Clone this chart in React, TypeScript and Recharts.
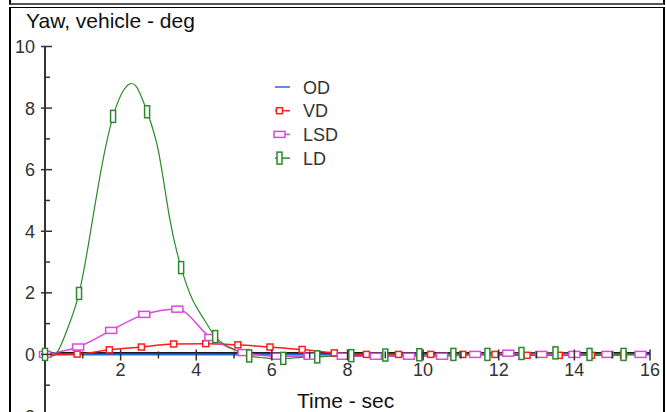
import React from "react";
import { LineChart, Line, XAxis, YAxis, ReferenceLine } from "recharts";

// sample periods of each run (s)
const OD_DT = 1;
const VD_DT = 0.85;
const LSD_DT = 0.875;
const LD_DT = 0.3;

// yaw angle, deg
const odYaw = [0, 0, 0, 0, 0, 0, 0, 0, 0, 0, 0, 0, 0, 0, 0, 0, 0];
const vdYaw = [0, 0.01, 0.15, 0.24, 0.34, 0.35, 0.31, 0.24, 0.16, 0.05, 0, 0, 0, 0, 0, -0.03, -0.03, -0.03, -0.02];
const lsdYaw = [0, 0.24, 0.78, 1.3, 1.47, 0.55, 0.06, -0.06, -0.06, -0.06, -0.06, -0.06, -0.06, 0, 0.04, 0, 0, 0, 0];
const ldYaw = [
  0, 0.03, 0.85, 1.98, 3.95, 6.1, 7.73, 8.62, 8.72, 7.88, 6.6, 4.4, 2.82, 1.78, 1.15, 0.58,
  0.28, 0.1, -0.05, -0.1, -0.13, -0.13, -0.11, -0.09, -0.08, -0.06, -0.05, -0.04, -0.03, -0.03,
  -0.02, -0.02, -0.02, -0.01, -0.01, -0.01, 0, 0, 0, 0, 0.01, 0.02, 0.03, 0.04, 0.05, 0.05,
  0.04, 0.02, 0, -0.01, -0.01, 0, 0, 0,
];

const xTicks = [0, 1, 2, 3, 4, 5, 6, 7, 8, 9, 10, 11, 12, 13, 14, 15, 16];
const yTicks = [-2, -1, 0, 1, 2, 3, 4, 5, 6, 7, 8, 9, 10];

const FONT = '"Liberation Sans", Arial, sans-serif';
const W = 666;
const H = 446;
const MARGIN = { top: 46.5, right: 16, left: 0, bottom: 0 };
const Y_AXIS_W = 45;
const X_AXIS_H = 30;
const PLOT_H = H - MARGIN.top - MARGIN.bottom - X_AXIS_H;
const Y_MIN = -2;
const Y_MAX = 10;
const ZERO_UP = (PLOT_H * (0 - Y_MIN)) / (Y_MAX - Y_MIN);

const rows = (vals: number[], dt: number) =>
  vals.map((v, i) => ({ t: Math.round(i * dt * 1000) / 1000, v }));

type Marker = (cx: number, cy: number, color: string, key?: any) => React.ReactElement;

const sq: Marker = (cx, cy, c, k) => (
  <rect key={k} x={cx - 3} y={cy - 3} width={6} height={6} fill="#fff" stroke={c} strokeWidth={1.5} />
);
const wide: Marker = (cx, cy, c, k) => (
  <rect key={k} x={cx - 5.5} y={cy - 3} width={11} height={6} fill="#fff" stroke={c} strokeWidth={1.5} />
);
const tall: Marker = (cx, cy, c, k) => (
  <rect key={k} x={cx - 2.5} y={cy - 6} width={5} height={12} fill="#fff" stroke={c} strokeWidth={1.5} />
);

const series = [
  { name: "OD", color: "#2468dc", data: rows(odYaw, OD_DT), width: 2, curve: "linear", every: 0, from: 0, marker: null as Marker | null },
  { name: "VD", color: "#ff1c1c", data: rows(vdYaw, VD_DT), width: 1.5, curve: "monotone", every: 1, from: 1, marker: sq },
  { name: "LSD", color: "#dc48dc", data: rows(lsdYaw, LSD_DT), width: 1.5, curve: "monotone", every: 1, from: 0, marker: wide },
  { name: "LD", color: "#2a8a2a", data: rows(ldYaw, LD_DT), width: 1.2, curve: "natural", every: 3, from: 0, marker: tall },
];

const YTick = (p: any) => {
  const v = p.payload.value;
  const major = v % 2 === 0;
  return (
    <g>
      <line x1={major ? p.x - 4 : p.x} x2={major ? p.x + 7 : p.x + 5} y1={p.y} y2={p.y} stroke="#333" strokeWidth={1.5} />
      {major && (
        <text x={p.x - 10} y={p.y + 6.5} textAnchor="end" fontSize={18} fill="#333" fontFamily={FONT}>
          {v}
        </text>
      )}
    </g>
  );
};

const XTick = (p: any) => {
  const v = p.payload.value;
  if (v === 0) return <g />;
  const major = v % 2 === 0;
  const y0 = p.y - ZERO_UP;
  return (
    <g>
      <line x1={p.x} x2={p.x} y1={y0 - (major ? 5 : 3)} y2={y0 + (major ? 6 : 4)} stroke="#333" strokeWidth={1.5} />
      {major && (
        <text x={p.x} y={y0 + 22} textAnchor="middle" fontSize={18} fill="#333" fontFamily={FONT}>
          {v}
        </text>
      )}
    </g>
  );
};

const LegendBox = () => (
  <svg width={90} height={100}>
    {series.map((s, i) => {
      const y = 12 + i * 23.7;
      return (
        <g key={s.name}>
          <line x1={7} x2={22} y1={y} y2={y} stroke={s.color} strokeWidth={1.5} />
          {s.marker && s.marker(11.5, y, s.color)}
          <text x={35} y={y + 6.5} fontSize={18} fill="#333" fontFamily={FONT}>
            {s.name}
          </text>
        </g>
      );
    })}
  </svg>
);

const ZeroLine = (p: any) => (
  <line x1={p.x1} x2={p.x2} y1={p.y1 - 1.5} y2={p.y2 - 1.5} stroke="#1a1a1a" strokeWidth={2} />
);

export default function App() {
  return (
    <div style={{ width: 650, height: 396 }}>
      <div style={{ position: "fixed", left: 0, top: 0, width: 666, height: 412, overflow: "hidden", background: "#fff", fontFamily: FONT }}>
        {/* strip of the box above */}
        <div style={{ position: "absolute", left: 9, top: 0, width: 652, height: 3, borderLeft: "2px solid #000", borderRight: "2px solid #000", borderBottom: "2px solid #555" }} />
        {/* frame */}
        <div style={{ position: "absolute", left: 9, top: 7, width: 652, height: 420, borderLeft: "2px solid #000", borderRight: "2px solid #000", borderTop: "1px solid #000" }} />
        <div style={{ position: "absolute", left: 26, top: 9, fontSize: 21, color: "#111", whiteSpace: "nowrap" }}>Yaw, vehicle - deg</div>
        <div style={{ position: "absolute", left: 297, top: 389, fontSize: 21, color: "#111", whiteSpace: "nowrap" }}>Time - sec</div>
        <div style={{ position: "absolute", left: 0, top: 0 }}>
          <LineChart width={W} height={H} margin={MARGIN}>
            <XAxis
              dataKey="t"
              type="number"
              domain={[0, 16]}
              ticks={xTicks}
              interval={0}
              height={X_AXIS_H}
              axisLine={false}
              tickLine={false}
              tickSize={0}
              tickMargin={0}
              tick={<XTick />}
            />
            <YAxis
              dataKey="v"
              type="number"
              domain={[Y_MIN, Y_MAX]}
              ticks={yTicks}
              interval={0}
              width={Y_AXIS_W}
              axisLine={{ stroke: "#333", strokeWidth: 2 }}
              tickLine={false}
              tickSize={0}
              tickMargin={0}
              tick={<YTick />}
            />
            <ReferenceLine y={0} shape={<ZeroLine />} />
            {series.map((s) => (
              <Line
                key={s.name}
                name={s.name}
                data={s.data}
                dataKey="v"
                type={s.curve as any}
                stroke={s.color}
                strokeWidth={s.width}
                isAnimationActive={false}
                activeDot={false}
                dot={(d: any) =>
                  s.marker && d.index >= s.from && (d.index - s.from) % s.every === 0
                    ? s.marker(d.cx, d.cy, s.color, `${s.name}-${d.index}`)
                    : <g key={`${s.name}-${d.index}`} />
                }
              />
            ))}
          </LineChart>
        </div>
        <div style={{ position: "absolute", left: 268, top: 75 }}>
          <LegendBox />
        </div>
      </div>
    </div>
  );
}
